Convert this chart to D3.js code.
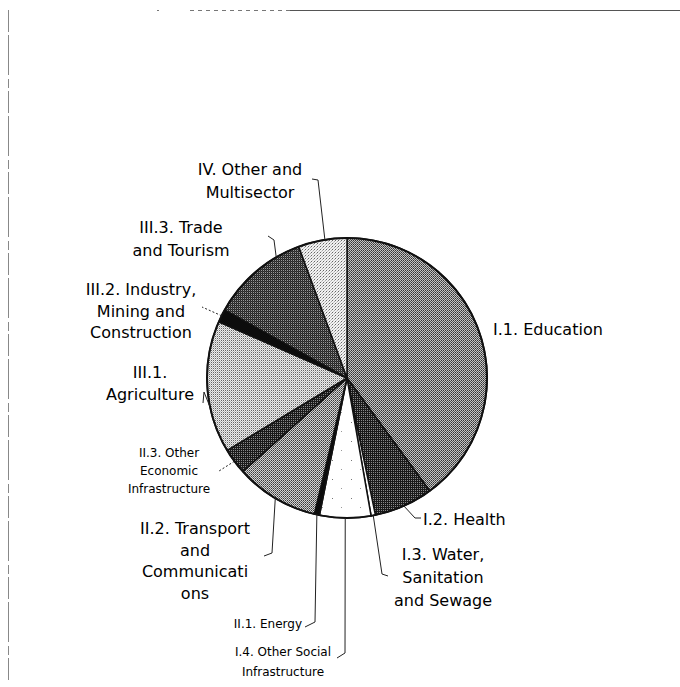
<!DOCTYPE html>
<html>
<head>
<meta charset="utf-8">
<script src="https://cdn.jsdelivr.net/npm/d3@7"></script>
<style>
  body { margin: 0; background: #fff; }
  text { font-family: "DejaVu Sans", sans-serif; fill: #000; }
</style>
</head>
<body>
<svg width="680" height="687"></svg>
<script>
// sectors, clockwise from 12 o'clock
var sectors = ["I.1", "I.2", "I.3", "I.4", "II.1", "II.2", "II.3", "III.1", "III.2", "III.3", "IV"]
var shares = [39.9, 6.8, 0.5, 5.9, 0.6, 9.6, 3.0, 15.2, 1.5, 11.3, 5.6]
var labelLines = [
  ["I.1. Education"],
  ["I.2. Health"],
  ["I.3. Water,", "Sanitation", "and Sewage"],
  ["I.4. Other Social", "Infrastructure"],
  ["II.1. Energy"],
  ["II.2. Transport", "and", "Communicati", "ons"],
  ["II.3. Other", "Economic", "Infrastructure"],
  ["III.1.", "Agriculture"],
  ["III.2. Industry,", "Mining and", "Construction"],
  ["III.3. Trade", "and Tourism"],
  ["IV. Other and", "Multisector"]
]
var fills = ["mid", "dark", "white", "sparse", "black", "mid2", "dark", "light", "black", "dark2", "lighter"]

// label placement (x, first baseline, line step, anchor, size) and leader elbows
var layout = {
  "I.1":   { x: 493, y: 335, dy: 22, anchor: "start", size: 16, leader: null },
  "I.2":   { x: 423, y: 525, dy: 22, anchor: "start", size: 16, leader: [[415, 518], [421, 518]] },
  "I.3":   { x: 443, y: 560, dy: 23, anchor: "middle", size: 16, leader: [[382, 574], [388, 576]] },
  "I.4":   { x: 283, y: 656, dy: 20, anchor: "middle", size: 12, weight: 500, leader: [[345, 653], [337, 658]] },
  "II.1":  { x: 302, y: 628, dy: 20, anchor: "end", size: 12, weight: 500, leader: [[315, 622], [305, 627]] },
  "II.2":  { x: 195, y: 534, dy: 21.5, anchor: "middle", size: 16, leader: [[272, 553], [264, 556]] },
  "II.3":  { x: 169, y: 457, dy: 18, anchor: "middle", size: 12, weight: 500, leader: [[219, 471]], dash: "2,2" },
  "III.1": { x: 150, y: 378, dy: 22, anchor: "middle", size: 16, leader: [[204, 392], [203, 403]], frac: 0.35 },
  "III.2": { x: 141, y: 295, dy: 21.5, anchor: "middle", size: 16, leader: [[202, 307]], dash: "2,2" },
  "III.3": { x: 181, y: 233, dy: 23, anchor: "middle", size: 16, leader: [[274, 240], [268, 236]], frac: 0.75 },
  "IV":    { x: 250, y: 175, dy: 23, anchor: "middle", size: 16, leader: [[318, 180], [312, 179]], frac: 0.55 }
}

var svg = d3.select("svg")
var cx = 347, cy = 378, r = 140

// halftone-ish fills
var defs = svg.append("defs")
function pattern(id, size, bg, dots) {
  var p = defs.append("pattern").attr("id", id)
    .attr("patternUnits", "userSpaceOnUse")
    .attr("width", size).attr("height", size)
  p.append("rect").attr("width", size).attr("height", size).attr("fill", bg)
  dots.forEach(function (d) {
    p.append("rect").attr("x", d[0]).attr("y", d[1]).attr("width", 1).attr("height", 1).attr("fill", d[2])
  })
}
pattern("mid", 2, "#c4c4c4", [[0, 0, "#333"], [1, 1, "#555"]])
pattern("mid2", 2, "#d4d4d4", [[0, 0, "#3a3a3a"], [1, 1, "#6a6a6a"]])
pattern("dark", 2, "#1a1a1a", [[0, 0, "#8a8a8a"]])
pattern("dark2", 2, "#262626", [[0, 0, "#999"], [1, 1, "#3c3c3c"]])
pattern("light", 2, "#ececec", [[0, 0, "#666"], [1, 1, "#bcbcbc"]])
pattern("lighter", 3, "#f2f2f2", [[0, 0, "#666"], [2, 1, "#aaa"], [1, 2, "#c4c4c4"]])
pattern("sparse", 19, "#fff", [[4, 6, "#777"], [13, 15, "#999"]])

var fillOf = { white: "#fff", black: "#0c0c0c" }

// frame remnants of the scanned page
var frame = svg.append("g").attr("fill", "none").attr("stroke-width", 1)
frame.append("line").attr("x1", 290).attr("y1", 10.5).attr("x2", 680).attr("y2", 10.5).attr("stroke", "#555")
frame.append("line").attr("x1", 190).attr("y1", 10.5).attr("x2", 290).attr("y2", 10.5)
  .attr("stroke", "#777").attr("stroke-dasharray", "4,4")
frame.append("line").attr("x1", 157).attr("y1", 10.5).attr("x2", 159).attr("y2", 10.5).attr("stroke", "#777")
frame.append("line").attr("x1", 8.5).attr("y1", 10).attr("x2", 8.5).attr("y2", 680)
  .attr("stroke", "#888").attr("stroke-dasharray", "22,3,40,4,9,3")

var pie = d3.pie().sort(null).value(function (d) { return d })
var arcs = pie(shares)
var arc = d3.arc().innerRadius(0).outerRadius(r)

var g = svg.append("g").attr("transform", "translate(" + cx + "," + cy + ")")
g.selectAll("path.slice")
  .data(arcs)
  .enter().append("path")
  .attr("class", "slice")
  .attr("d", arc)
  .attr("fill", function (d, i) { return fillOf[fills[i]] || "url(#" + fills[i] + ")" })
  .attr("stroke", "#111")
  .attr("stroke-width", 1.5)
  .attr("stroke-linejoin", "round")

g.append("circle").attr("r", r).attr("fill", "none").attr("stroke", "#111").attr("stroke-width", 2)

// leaders
arcs.forEach(function (a, i) {
  var L = layout[sectors[i]]
  if (!L.leader) return
  var f = L.frac == null ? 0.5 : L.frac
  var ang = a.startAngle + (a.endAngle - a.startAngle) * f
  var rim = [cx + r * Math.sin(ang), cy - r * Math.cos(ang)]
  svg.append("path")
    .attr("d", d3.line()([rim].concat(L.leader)))
    .attr("fill", "none")
    .attr("stroke", "#222")
    .attr("stroke-width", 1)
    .attr("stroke-dasharray", L.dash || null)
})

// labels
sectors.forEach(function (s, i) {
  var L = layout[s]
  var t = svg.append("text")
    .attr("text-anchor", L.anchor)
    .style("font-size", L.size + "px")
    .style("font-weight", L.weight || 400)
  labelLines[i].forEach(function (line, j) {
    t.append("tspan").attr("x", L.x).attr("y", L.y + j * L.dy).text(line)
  })
})
</script>
</body>
</html>
